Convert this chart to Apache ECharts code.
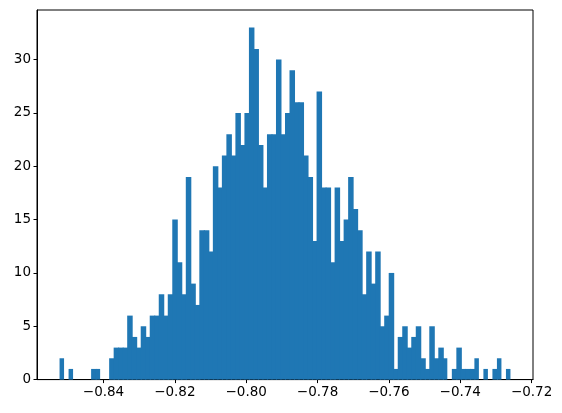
<!DOCTYPE html>
<html>
<head>
<meta charset="utf-8">
<script src="https://cdn.jsdelivr.net/npm/echarts@6/dist/echarts.min.js"></script>
<style>
html,body{margin:0;padding:0;background:#fff;}
#chart{width:562px;height:413px;}
</style>
</head>
<body>
<div id="chart"></div>
<script>
// Histogram counts per bin (100 bins)
const counts = [
  2,0,1,0,0,0,0,1,1,0,
  0,2,3,3,3,6,4,3,5,4,
  6,6,8,6,8,15,11,8,19,9,
  7,14,14,12,20,18,21,23,21,25,
  22,25,33,31,22,18,23,23,30,23,
  25,29,26,26,21,19,13,27,18,18,
  11,18,13,15,19,16,14,8,12,9,
  12,5,6,10,1,4,5,3,4,5,
  2,1,5,2,3,2,0,1,3,1,
  1,1,2,0,1,0,1,2,0,1
];
const binStart = -0.85232;
const binWidth = 0.0012639;
const xTicks = [-0.84, -0.82, -0.80, -0.78, -0.76, -0.74, -0.72];
const yTicks = [0, 5, 10, 15, 20, 25, 30];

const data = [];
counts.forEach((c, i) => {
  if (c > 0) {
    const nextFilled = i + 1 < counts.length && counts[i + 1] > 0 ? 1 : 0;
    data.push([binStart + i * binWidth, binStart + (i + 1) * binWidth, c, nextFilled]);
  }
});

const font = 'DejaVu Sans';
const chart = echarts.init(document.getElementById('chart'), null, {renderer: 'canvas'});
chart.setOption({
  animation: false,
  backgroundColor: '#fff',
  grid: {
    left: 37, right: 29, top: 10, bottom: 33.4,
    show: true, borderColor: '#000', borderWidth: 1, backgroundColor: 'transparent'
  },
  xAxis: {
    type: 'value',
    min: -0.85864,
    max: -0.71961,
    splitLine: {show: false},
    axisLine: {show: true, onZero: false, lineStyle: {color: '#000', width: 1}},
    axisTick: {show: true, length: 3.5, inside: false, customValues: xTicks, lineStyle: {color: '#000', width: 1}},
    axisLabel: {
      customValues: xTicks,
      margin: 6,
      color: '#000',
      fontFamily: font,
      fontSize: 13.5,
      formatter: v => v.toFixed(2).replace('-', '\u2212')
    }
  },
  yAxis: {
    type: 'value',
    min: 0,
    max: 34.65,
    splitLine: {show: false},
    axisLine: {show: true, lineStyle: {color: '#000', width: 1}},
    axisTick: {show: true, length: 3.5, inside: false, customValues: yTicks, lineStyle: {color: '#000', width: 1}},
    axisLabel: {
      customValues: yTicks,
      margin: 6,
      color: '#000',
      fontFamily: font,
      fontSize: 13.5,
      formatter: v => String(v)
    }
  },
  series: [{
    type: 'custom',
    data: data,
    encode: {x: [0, 1], y: 2},
    renderItem: function (params, api) {
      const lo = api.coord([api.value(0), 0]);
      const hi = api.coord([api.value(1), api.value(2)]);
      const ext = api.value(3) ? 1 : 0;
      return {
        type: 'rect',
        shape: {x: lo[0], y: hi[1], width: hi[0] - lo[0] + ext, height: lo[1] - hi[1]},
        style: {fill: '#1f77b4'}
      };
    }
  }]
});
</script>
</body>
</html>
